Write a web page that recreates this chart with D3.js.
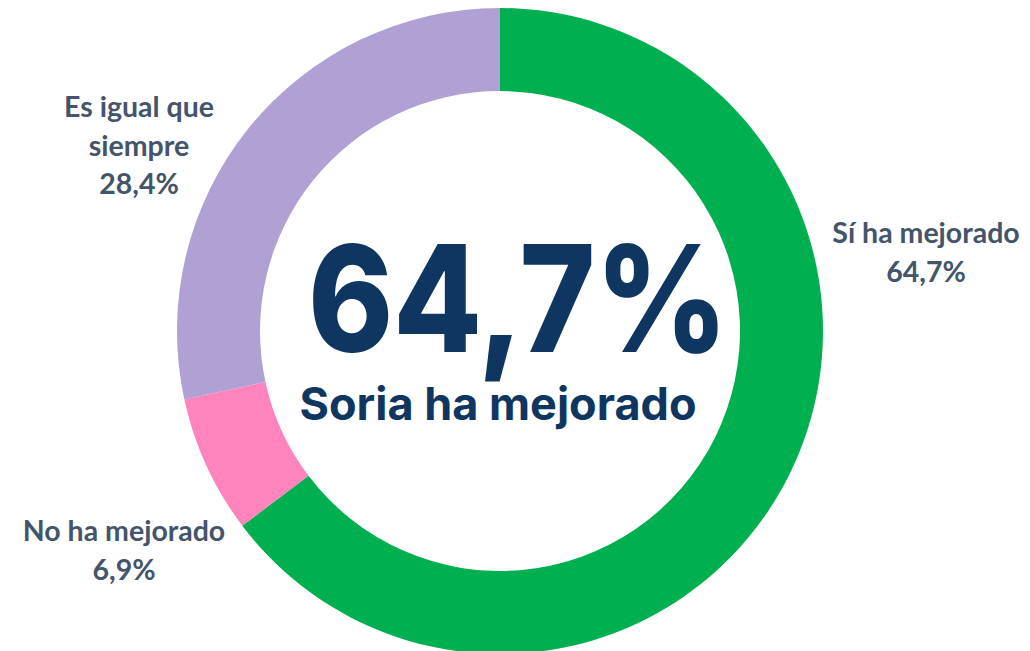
<!DOCTYPE html>
<html>
<meta charset="utf-8">
<script src="https://d3js.org/d3.v7.min.js"></script>
<style>
  body { margin: 0; background: #fff; }
</style>
<body>
<script>

// data
var categories = ["Sí ha mejorado", "No ha mejorado", "Es igual que siempre"];
var values = [64.7, 6.9, 28.4];
var labelLines = [["Sí ha mejorado"], ["No ha mejorado"], ["Es igual que", "siempre"]];
var colors = ["#00B050", "#FF84BD", "#B1A0D4"];
var headline = "64,7%";
var subline = "Soria ha mejorado";

var width = 1030, height = 651;
var cx = 500, cy = 331, outerR = 323, innerR = 240;

// where each label block goes (center x, first baseline y)
var labelPos = [[926, 243], [124, 541], [139, 117]];
var lineH = 38.5;

var fmt = function(v) { return v.toFixed(1).replace(".", ",") + "%"; };

var svg = d3.select("body")
  .append("svg")
  .attr("width", width)
  .attr("height", height);

var pie = d3.pie().sort(null).value(function(d) { return d; });
var arc = d3.arc().innerRadius(innerR).outerRadius(outerR);

var g = svg.append("g").attr("transform", "translate(" + cx + "," + cy + ")");

g.selectAll("path")
  .data(pie(values))
  .enter().append("path")
    .attr("d", arc)
    .style("fill", function(d, i) { return colors[i]; });

// category labels
var lab = svg.append("g")
  .selectAll("text")
  .data(categories)
  .enter().append("text")
    .attr("text-anchor", "middle")
    .style("font-family", "Lato, 'Open Sans', sans-serif")
    .style("font-weight", "bold")
    .style("font-size", "28.5px")
    .style("fill", "#44546A");

lab.each(function(d, i) {
  var t = d3.select(this);
  var lines = labelLines[i].concat([fmt(values[i])]);
  lines.forEach(function(s, j) {
    t.append("tspan")
      .attr("x", labelPos[i][0])
      .attr("y", labelPos[i][1] + j * lineH)
      .text(s);
  });
});

// big number in the middle
svg.append("text")
  .attr("x", 518)
  .attr("y", 352)
  .attr("text-anchor", "middle")
  .attr("textLength", 420)
  .attr("lengthAdjust", "spacingAndGlyphs")
  .style("font-family", "Inter, sans-serif")
  .style("font-weight", 800)
  .style("font-size", "148px")
  .style("fill", "#0E3660")
  .text(headline);

svg.append("text")
  .attr("x", 498)
  .attr("y", 420)
  .attr("text-anchor", "middle")
  .style("font-family", "Inter, sans-serif")
  .style("font-weight", 700)
  .style("font-size", "45px")
  .style("fill", "#0E3660")
  .text(subline);

</script>
</body>
</html>
